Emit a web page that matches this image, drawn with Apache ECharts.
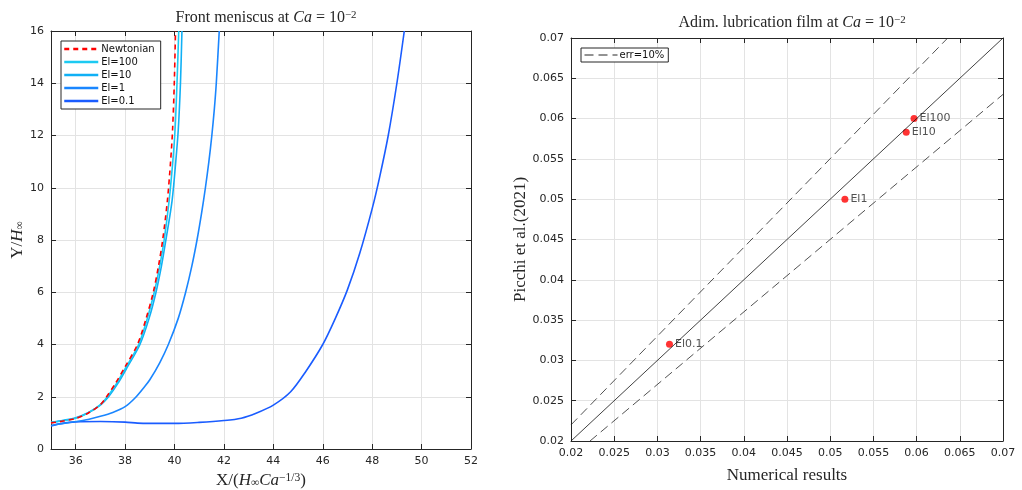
<!DOCTYPE html>
<html>
<head>
<meta charset="utf-8">
<script src="https://cdn.jsdelivr.net/npm/echarts@6/dist/echarts.min.js"></script>
<style>
html, body { margin: 0; padding: 0; background: #fff; }
#main { width: 1022px; height: 490px; }
</style>
</head>
<body>
<div id="main"></div>
<script>
// front meniscus profiles, [X, Y]
var newtonian = [[35.0,1.00],[35.5,1.07],[36.0,1.17],[36.5,1.37],[37.0,1.70],[37.25,2.0],[37.6,2.5],[38.0,3.15],[38.5,4.0],[38.85,5.0],[39.14,6.0],[39.35,7.0],[39.52,8.0],[39.71,9.5],[39.84,11.0],[39.92,12.2],[39.99,14.0],[40.04,16.0]];
var el100 = [[35.0,1.01],[35.5,1.08],[36.0,1.18],[36.5,1.38],[37.0,1.70],[37.28,2.0],[37.65,2.5],[38.05,3.15],[38.55,4.0],[38.9,5.0],[39.18,6.0],[39.4,7.0],[39.58,8.0],[39.78,9.5],[39.93,11.0],[40.02,12.2],[40.1,14.0],[40.17,16.0]];
var el10 = [[35.0,1.02],[35.5,1.10],[36.0,1.20],[36.5,1.39],[37.0,1.68],[37.33,2.0],[37.7,2.5],[38.1,3.15],[38.6,4.0],[38.97,5.0],[39.25,6.0],[39.47,7.0],[39.65,8.0],[39.9,9.5],[40.05,11.0],[40.15,12.2],[40.24,14.0],[40.3,16.0]];
var el1 = [[35.0,0.90],[35.5,0.98],[36.0,1.05],[36.5,1.13],[37.0,1.25],[37.5,1.40],[38.0,1.62],[38.4,1.95],[38.8,2.4],[39.0,2.65],[39.4,3.3],[39.75,4.0],[40.15,5.0],[40.45,6.0],[40.7,7.0],[40.91,8.0],[41.09,9.0],[41.25,10.0],[41.39,11.0],[41.51,12.0],[41.61,13.0],[41.69,14.0],[41.81,16.0]];
var el01 = [[35.0,0.88],[35.4,0.97],[36.0,1.04],[37.0,1.05],[38.0,1.03],[38.5,0.99],[39.0,0.98],[40.0,0.98],[41.0,1.02],[42.0,1.09],[42.7,1.18],[43.3,1.37],[44.0,1.68],[44.7,2.19],[45.3,2.95],[46.0,4.0],[46.5,4.98],[47.0,6.1],[47.5,7.5],[48.0,9.2],[48.3,10.4],[48.65,12.0],[49.0,14.0],[49.3,16.0]];

// lubrication film comparison, right panel
var caseNames = ['El100', 'El10', 'El1', 'El0.1'];
var numerical = [0.0597, 0.0588, 0.0517, 0.0314];
var picchi = [0.0600, 0.0583, 0.0500, 0.0320];
var parityLine = [[0.02, 0.02], [0.07, 0.07]];
var errUpper = [[0.02, 0.022], [0.0636, 0.07]];
var errLower = [[0.0222, 0.02], [0.07, 0.063]];

var axisColor = '#262626';
var gridColor = '#e3e3e3';
var serif = 'Liberation Serif';

function richMath(size) {
  return {
    n: { fontFamily: serif, fontSize: size, fontWeight: 'normal', color: axisColor },
    i: { fontFamily: serif, fontSize: size, fontWeight: 'normal', fontStyle: 'italic', color: axisColor },
    sup: { fontFamily: serif, fontSize: size * 0.68, fontWeight: 'normal', color: axisColor, verticalAlign: 'top', lineHeight: 12 },
    sub: { fontFamily: serif, fontSize: size * 0.68, fontWeight: 'normal', color: axisColor, verticalAlign: 'bottom', lineHeight: 12 }
  };
}

function mainAxis(gridIndex, pos, extra) {
  var a = {
    gridIndex: gridIndex,
    type: 'value',
    position: pos,
    axisLine: { show: true, onZero: false, lineStyle: { color: axisColor, width: 1 } },
    axisTick: { show: true, inside: true, length: 5, lineStyle: { color: axisColor } },
    axisLabel: { color: axisColor, fontFamily: 'DejaVu Sans', fontSize: 11, margin: 7 },
    splitLine: { show: true, lineStyle: { color: gridColor, width: 1 } }
  };
  for (var k in extra) a[k] = extra[k];
  return a;
}

function boxAxis(gridIndex, pos, extra) {
  var a = mainAxis(gridIndex, pos, extra);
  a.axisLabel = { show: false };
  a.splitLine = { show: false };
  a.name = '';
  return a;
}

var xLeft = { min: 35, max: 52, splitNumber: 8 };
var yLeft = { min: 0, max: 16, interval: 2 };
var xRight = { min: 0.02, max: 0.07, interval: 0.005 };
var yRight = { min: 0.02, max: 0.07, interval: 0.005 };

var hiddenSymbol = { color: 'rgba(0,0,0,0)', borderColor: 'rgba(0,0,0,0)', borderWidth: 0, opacity: 0 };

var xLeftMain = mainAxis(0, 'bottom', Object.assign({
  name: '{n|X/(}{i|H}{sub|∞}{i|Ca}{sup|−1/3}{n|)}',
  nameLocation: 'middle', nameGap: 21,
  nameTextStyle: { rich: richMath(17) }
}, xLeft));
xLeftMain.axisLabel.formatter = function (v) { return v === 35 ? '' : String(v); };

var myChart = echarts.init(document.getElementById('main'));
var option = {
  animation: false,
  backgroundColor: '#fff',
  title: [
    {
      text: '{n|Front meniscus at }{i|Ca}{n| = 10}{sup|−2}',
      left: 261, top: 5, textAlign: 'center',
      textStyle: { fontWeight: 'normal', rich: richMath(16) }
    },
    {
      text: '{n|Adim. lubrication film at }{i|Ca}{n| = 10}{sup|−2}',
      left: 787, top: 10, textAlign: 'center',
      textStyle: { fontWeight: 'normal', rich: richMath(16) }
    }
  ],
  grid: [
    { left: 51, right: 551, top: 31, bottom: 41, outerBoundsMode: 'none', containLabel: false },
    { left: 571, right: 19, top: 38, bottom: 49, outerBoundsMode: 'none', containLabel: false }
  ],
  legend: [
    {
      data: ['Newtonian', 'El=100', 'El=10', 'El=1', 'El=0.1'],
      orient: 'vertical', left: 61, top: 41,
      itemWidth: 34, itemHeight: 10, itemGap: 3,
      padding: [3, 6, 3, 2],
      borderColor: axisColor, borderWidth: 1, backgroundColor: '#fff',
      lineStyle: { width: 2.5 },
      itemStyle: hiddenSymbol,
      textStyle: { fontFamily: 'DejaVu Sans', fontSize: 10, color: '#111', padding: [0, 0, 0, -2] }
    },
    {
      data: ['err=10%'],
      left: 581, top: 48,
      itemWidth: 33, itemHeight: 10,
      padding: [2, 4, 2, 3],
      borderColor: axisColor, borderWidth: 1, backgroundColor: '#fff',
      itemStyle: hiddenSymbol,
      lineStyle: { width: 1 },
      textStyle: { fontFamily: 'DejaVu Sans', fontSize: 10, color: '#111', padding: [0, 0, 0, -3] }
    }
  ],
  xAxis: [
    xLeftMain,
    boxAxis(0, 'top', xLeft),
    mainAxis(1, 'bottom', Object.assign({
      name: 'Numerical results',
      nameLocation: 'middle', nameGap: 26,
      nameTextStyle: { fontFamily: serif, fontSize: 17, color: axisColor }
    }, xRight)),
    boxAxis(1, 'top', xRight)
  ],
  yAxis: [
    mainAxis(0, 'left', Object.assign({
      name: '{n|Y/}{i|H}{sub|∞}',
      nameLocation: 'middle', nameGap: 22,
      nameTextStyle: { rich: richMath(17) }
    }, yLeft)),
    boxAxis(0, 'right', yLeft),
    mainAxis(1, 'left', Object.assign({
      name: 'Picchi et al.(2021)',
      nameLocation: 'middle', nameGap: 42,
      nameTextStyle: { fontFamily: serif, fontSize: 17, color: axisColor }
    }, yRight)),
    boxAxis(1, 'right', yRight)
  ],
  series: [
    {
      name: 'El=0.1', type: 'line', xAxisIndex: 0, yAxisIndex: 0,
      data: el01, symbol: 'none', smooth: 0.3,
      lineStyle: { color: '#1a5cff', width: 1.6 }, itemStyle: { color: '#1a5cff' }
    },
    {
      name: 'El=1', type: 'line', xAxisIndex: 0, yAxisIndex: 0,
      data: el1, symbol: 'none', smooth: 0.3,
      lineStyle: { color: '#1a86ff', width: 1.6 }, itemStyle: { color: '#1a86ff' }
    },
    {
      name: 'El=10', type: 'line', xAxisIndex: 0, yAxisIndex: 0,
      data: el10, symbol: 'none', smooth: 0.3,
      lineStyle: { color: '#10b0f5', width: 1.6 }, itemStyle: { color: '#10b0f5' }
    },
    {
      name: 'El=100', type: 'line', xAxisIndex: 0, yAxisIndex: 0,
      data: el100, symbol: 'none', smooth: 0.3,
      lineStyle: { color: '#1ccaf2', width: 1.6 }, itemStyle: { color: '#1ccaf2' }
    },
    {
      name: 'Newtonian', type: 'line', xAxisIndex: 0, yAxisIndex: 0,
      data: newtonian, symbol: 'none', smooth: 0.3,
      lineStyle: { color: '#ff0000', width: 1.6, type: [5, 4] }, itemStyle: { color: '#ff0000' }
    },
    {
      name: 'err=10%', type: 'line', xAxisIndex: 2, yAxisIndex: 2,
      data: errUpper, symbol: 'none',
      lineStyle: { color: axisColor, width: 0.8, type: [9, 5] }, itemStyle: { color: axisColor }
    },
    {
      name: 'err=10%', type: 'line', xAxisIndex: 2, yAxisIndex: 2,
      data: errLower, symbol: 'none',
      lineStyle: { color: axisColor, width: 0.8, type: [9, 5] }, itemStyle: { color: axisColor }
    },
    {
      name: 'parity', type: 'line', xAxisIndex: 2, yAxisIndex: 2,
      data: parityLine, symbol: 'none',
      lineStyle: { color: '#111', width: 0.8 }
    },
    {
      name: 'cases', type: 'scatter', xAxisIndex: 2, yAxisIndex: 2,
      symbolSize: 7,
      itemStyle: { color: '#ff0000' },
      data: numerical.map(function (x, i) { return { value: [x, picchi[i]], name: caseNames[i] }; }),
      label: {
        show: true, position: 'right', distance: 2,
        fontFamily: 'DejaVu Sans', fontSize: 11, color: axisColor,
        formatter: function (p) { return p.name; }
      }
    }
  ]
};
myChart.setOption(option);
</script>
</body>
</html>
